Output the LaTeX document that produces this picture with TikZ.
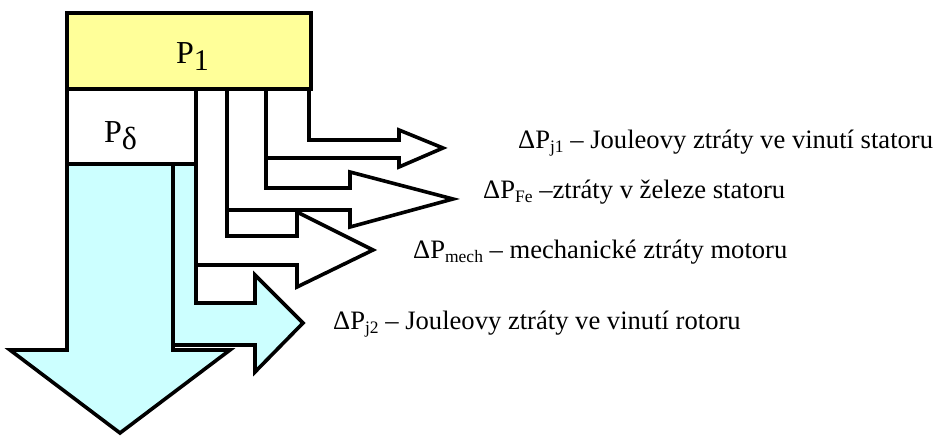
\documentclass[tikz,border=0pt]{standalone}
\usepackage{fontspec}
\setmainfont{Liberation Serif}
\definecolor{pyellow}{HTML}{FFFF99}
\definecolor{pcyan}{HTML}{CCFFFF}
\newcommand\lsub[1]{\raisebox{-4bp}{\fontsize{17.5bp}{17.5bp}\selectfont #1}}
\tikzset{
  shapeline/.style={draw=black, line width=3.6bp, line join=miter, miter limit=10},
  whitearrow/.style={shapeline, fill=white},
  cyanarrow/.style={shapeline, fill=pcyan},
  lbl/.style={anchor=base west, inner sep=0pt, font=\fontsize{26.6bp}{30bp}\selectfont},
  big/.style={anchor=base west, inner sep=0pt, font=\fontsize{32bp}{36bp}\selectfont}
}
\begin{document}
\begin{tikzpicture}[x=1bp, y=-1bp]
\useasboundingbox (0,0) rectangle (938,436);
% down arrow (mechanical output)
\draw[cyanarrow] (67,164) -- (67,350) -- (10,350) -- (120,433) -- (230,350) -- (173,350) -- (173,164) -- cycle;
% j2 arrow
\draw[cyanarrow] (173,164) -- (173,345) -- (255,345) -- (255,372) -- (303,323) -- (255,275) -- (255,303) -- (196,303) -- (196,164) -- cycle;
% mech arrow
\draw[whitearrow] (196,89) -- (196,265) -- (297,265) -- (297,287) -- (373,250) -- (297,212) -- (297,236) -- (227,236) -- (227,89) -- cycle;
% Fe arrow
\draw[whitearrow] (227,89) -- (227,210) -- (350,210) -- (350,227) -- (453,199) -- (350,172) -- (350,188) -- (266,188) -- (266,89) -- cycle;
% j1 arrow
\draw[whitearrow] (266,89) -- (266,158) -- (399,158) -- (399,167) -- (443,148) -- (399,130) -- (399,140) -- (309,140) -- (309,89) -- cycle;
% P_delta box
\draw[shapeline, fill=white] (67,89) rectangle (196,164);
% P1 box
\draw[shapeline, fill=pyellow] (67,13) rectangle (311,89);
% texts
\node[big] (p1) at (176,64) {P\raisebox{-7bp}{\fontsize{30bp}{30bp}\selectfont 1}};
\node[big] (pd) at (104,143) {P\raisebox{-7bp}{δ}};
\node[lbl] (lj1) at (518,149) {ΔP\lsub{j1} – Jouleovy ztráty ve vinutí statoru};
\node[lbl] (lfe) at (483,199) {ΔP\lsub{Fe} –ztráty v železe statoru};
\node[lbl] (lmech) at (413,259) {ΔP\lsub{mech} – mechanické ztráty motoru};
\node[lbl] (lj2) at (333,330) {ΔP\lsub{j2} – Jouleovy ztráty ve vinutí rotoru};
\end{tikzpicture}
\end{document}
